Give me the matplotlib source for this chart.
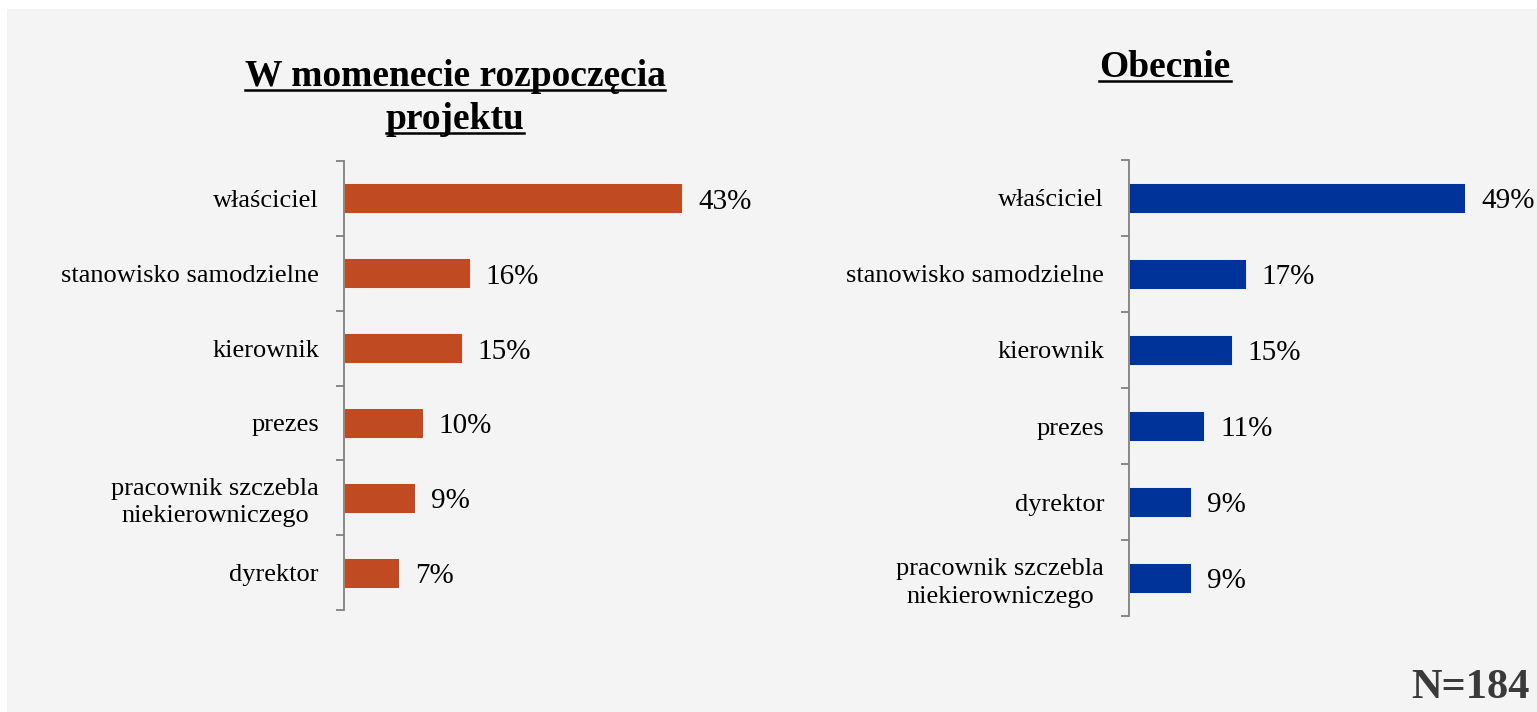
import matplotlib
matplotlib.use("Agg")
import matplotlib.pyplot as plt
from matplotlib.patches import Rectangle
from matplotlib.lines import Line2D

left_categories = ["właściciel", "stanowisko samodzielne", "kierownik", "prezes",
                   "pracownik szczebla\nniekierowniczego", "dyrektor"]
left_values = [43, 16, 15, 10, 9, 7]
right_categories = ["właściciel", "stanowisko samodzielne", "kierownik", "prezes",
                    "dyrektor", "pracownik szczebla\nniekierowniczego"]
right_values = [49, 17, 15, 11, 9, 9]
left_title = ["W momenecie rozpoczęcia", "projektu"]
right_title = ["Obecnie"]
note = "N=184"

W, H = 1537, 712
DPI = 100
plt.rcParams['font.family'] = ['Liberation Serif', 'DejaVu Serif']

fig = plt.figure(figsize=(W / DPI, H / DPI), dpi=DPI)
fig.patch.set_facecolor("white")
fig.add_artist(Rectangle((7 / W, 0), 1 - 7 / W, (H - 9) / H, transform=fig.transFigure,
                         facecolor="#f4f4f4", edgecolor="none", zorder=-10))


def px_ax(x0, x1, ytop, ybot):
    return [x0 / W, (H - ybot) / H, (x1 - x0) / W, (ybot - ytop) / H]


def panel(rect, cats, vals, color, xmax):
    ax = fig.add_axes(rect)
    ax.set_facecolor("none")
    n = len(cats)
    pos = list(range(n))
    ax.barh(pos, vals, height=0.4, color=color, edgecolor="white", linewidth=0.6)
    ax.set_ylim(n - 0.5, -0.5)
    ax.set_xlim(0, xmax)
    ax.set_xticks([])
    ax.set_yticks(pos)
    ax.set_yticklabels(cats, fontsize=19, color="black", multialignment="center",
                       linespacing=1.3)
    ax.tick_params(axis="y", which="major", length=0, pad=18)
    ax.set_yticks([p - 0.5 for p in range(n + 1)], minor=True)
    ax.tick_params(axis="y", which="minor", length=5.8, width=1.3, color="#808080",
                   direction="out")
    for s in ["top", "right", "bottom"]:
        ax.spines[s].set_visible(False)
    ax.spines["left"].set_color("#808080")
    ax.spines["left"].set_linewidth(1.3)
    for p, v in zip(pos, vals):
        ax.annotate(f"{v}%", xy=(v, p), xytext=(11.5, -2.5), textcoords="offset points",
                    ha="left", va="center", fontsize=21, color="black")
    return ax


panel(px_ax(344, 344 + 50 * 7.86, 161, 610), left_categories, left_values, "#c04a22", 50)
panel(px_ax(1129, 1129 + 55 * 6.86, 160, 616), right_categories, right_values, "#003399", 55)

titles = []
for txt, cx, by in [(left_title[0], 455, 86), (left_title[1], 455, 129),
                    (right_title[0], 1165, 77)]:
    t = fig.text(cx / W, (H - by) / H, txt, ha="center", va="baseline",
                 fontsize=27, fontweight="bold", color="black")
    titles.append((t, by))

fig.text(1530 / W, (H - 698) / H, note, ha="right", va="baseline", fontsize=30.5,
         fontweight="bold", color="#3a3a3a")

fig.canvas.draw()
r = fig.canvas.get_renderer()
for t, by in titles:
    bb = t.get_window_extent(renderer=r)
    yl = (H - by - 4) / H
    fig.add_artist(Line2D([bb.x0 / W, bb.x1 / W], [yl, yl], transform=fig.transFigure,
                          color="black", linewidth=1.8))

fig.savefig("out.png", dpi=DPI, facecolor=fig.get_facecolor())
